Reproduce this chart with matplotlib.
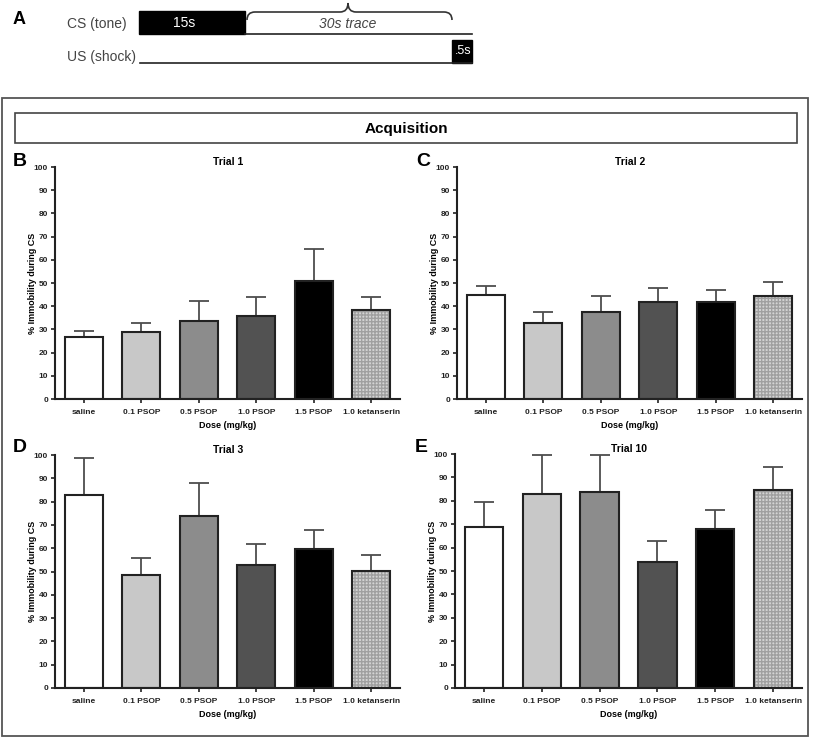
import matplotlib
matplotlib.use("Agg")
import matplotlib.pyplot as plt
from matplotlib.patches import Rectangle
from matplotlib.path import Path
from matplotlib.patches import PathPatch

plt.rcParams['font.family'] = ['Liberation Sans', 'DejaVu Sans']

# Données
groups = ['saline', '0.1 PSOP', '0.5 PSOP', '1.0 PSOP', '1.5 PSOP', '1.0 ketanserin']
trial_names = ['Trial 1', 'Trial 2', 'Trial 3', 'Trial 10']
panel_letters = ['B', 'C', 'D', 'E']

trial1_mean = [26.6, 28.8, 33.8, 35.8, 50.7, 38.4]
trial1_sem = [2.8, 4.0, 8.6, 8.0, 13.9, 5.4]
trial2_mean = [44.8, 32.7, 37.4, 41.8, 41.7, 44.3]
trial2_sem = [3.9, 5.0, 7.2, 5.9, 5.3, 6.3]
trial3_mean = [82.8, 48.4, 73.8, 52.7, 59.6, 50.4]
trial3_sem = [16.1, 7.5, 14.2, 8.9, 8.2, 6.8]
trial10_mean = [68.7, 82.9, 83.6, 53.9, 68.0, 84.6]
trial10_sem = [10.6, 16.7, 16.1, 8.8, 7.9, 10.0]

means = [trial1_mean, trial2_mean, trial3_mean, trial10_mean]
sems = [trial1_sem, trial2_sem, trial3_sem, trial10_sem]

bar_colors = ['white', '#c8c8c8', '#8c8c8c', '#525252', 'black', '#c4c4c4']

W, H = 813, 740
fig = plt.figure(figsize=(W / 100, H / 100), dpi=100)

# axe de fond en pixels (panneau A, cadres)
bg = fig.add_axes([0, 0, 1, 1])
bg.set_xlim(0, W)
bg.set_ylim(H, 0)
bg.axis('off')

# --- Panneau A ---
grey_txt = '#444444'
bg.text(13, 20, 'A', fontsize=13, fontweight='bold', va='center', ha='left')
bg.text(67, 24, 'CS (tone)', fontsize=10, color=grey_txt, va='center', ha='left')
bg.text(67, 57, 'US (shock)', fontsize=10, color=grey_txt, va='center', ha='left')
bg.add_patch(Rectangle((139, 11), 106, 23, facecolor='black', edgecolor='black'))
bg.text(184, 23, '15s', fontsize=10, color='white', va='center', ha='center')
bg.plot([245, 472], [34, 34], color='#222222', lw=1.2)
bg.plot([140, 472], [63, 63], color='#222222', lw=1.2)
bg.add_patch(Rectangle((452, 40), 20, 23, facecolor='black', edgecolor='black'))
bg.text(463, 51, '.5s', fontsize=9, color='white', va='center', ha='center')
bg.text(348, 24, '30s trace', fontsize=10, style='italic', color=grey_txt,
        va='center', ha='center')
# accolade
brace = Path([(247, 20), (247, 12), (255, 12), (262, 12),
              (340, 12), (348, 12), (348, 3),
              (348, 12), (356, 12), (436, 12),
              (444, 12), (452, 12), (452, 20)],
             [Path.MOVETO, Path.CURVE3, Path.CURVE3, Path.LINETO,
              Path.LINETO, Path.CURVE3, Path.CURVE3,
              Path.CURVE3, Path.CURVE3, Path.LINETO,
              Path.LINETO, Path.CURVE3, Path.CURVE3])
bg.add_patch(PathPatch(brace, facecolor='none', edgecolor='#333333', lw=1.2))

# --- cadres ---
bg.add_patch(Rectangle((2, 98), 806, 638, facecolor='none', edgecolor='#555555', lw=1.3))
bg.add_patch(Rectangle((15, 113), 782, 30, facecolor='none', edgecolor='#444444', lw=1.2))
bg.text(406, 129, 'Acquisition', fontsize=11, fontweight='bold', va='center', ha='center')

# positions des axes en pixels: (gauche, haut, droite, bas)
boxes = [(55, 167, 400, 399), (457, 167, 802, 399),
         (55, 455, 400, 688), (455, 454, 802, 688)]
letter_pos = [(13, 162), (416, 162), (13, 447), (415, 447)]

x = list(range(len(groups)))

for i in range(4):
    l, t, r, b = boxes[i]
    ax = fig.add_axes([l / W, 1 - b / H, (r - l) / W, (b - t) / H])
    ax.patch.set_alpha(0)

    ax.errorbar(x, means[i], yerr=[[0] * 6, sems[i]], fmt='none', ecolor='#4d4d4d',
                elinewidth=1.3, capsize=7, capthick=1.3, zorder=1)
    for j in range(len(groups)):
        if j == 5:
            ax.bar(x[j], means[i][j], width=0.66, color='#d4d4d4', hatch='+++++',
                   edgecolor='#a0a0a0', linewidth=0, zorder=2)
            ax.bar(x[j], means[i][j], width=0.66, fill=False, edgecolor='#222222',
                   linewidth=1.5, zorder=3)
        else:
            ax.bar(x[j], means[i][j], width=0.66, color=bar_colors[j],
                   edgecolor='#222222', linewidth=1.5, zorder=2)

    ax.set_xlim(-0.5, 5.5)
    ax.set_ylim(0, 100)
    ax.set_yticks(range(0, 101, 10))
    ax.set_xticks(x)
    ax.set_xticklabels(groups, fontsize=6, fontweight='bold')
    for lab in ax.get_yticklabels():
        lab.set_fontsize(6)
        lab.set_fontweight('bold')
    ax.tick_params(axis='both', length=3, width=1.2, pad=2, colors='#222222')
    ax.tick_params(axis='x', length=3, pad=4)
    for s in ['top', 'right']:
        ax.spines[s].set_visible(False)
    for s in ['left', 'bottom']:
        ax.spines[s].set_linewidth(1.5)
        ax.spines[s].set_color('#222222')
    ax.set_xlabel('Dose (mg/kg)', fontsize=6.5, fontweight='bold', labelpad=4)
    ax.set_ylabel('% Immobility during CS', fontsize=6.5, fontweight='bold', labelpad=-2)

    bg.text(letter_pos[i][0], letter_pos[i][1], panel_letters[i], fontsize=14,
            fontweight='bold', va='center', ha='left')
    bg.text((l + r) / 2 + 0.5, t - 5, trial_names[i], fontsize=7.5, fontweight='bold',
            va='center', ha='center')

fig.savefig('out.png', dpi=100)
